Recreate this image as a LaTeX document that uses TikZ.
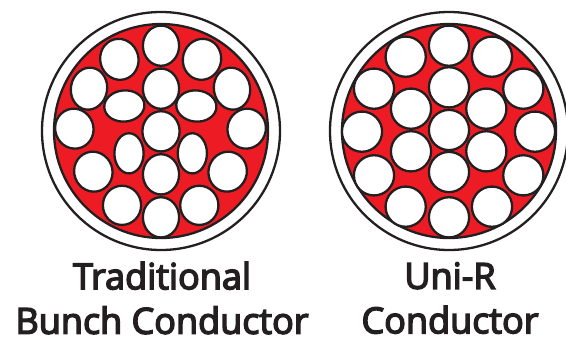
\documentclass[tikz,border=0pt]{standalone}
\usepackage{fontspec}
\setmainfont{Open Sans}[FakeBold=4]
\definecolor{fillred}{RGB}{237,28,36}
\definecolor{inkline}{RGB}{35,31,32}
\usetikzlibrary{shapes.geometric}
\tikzset{
  jacket/.style={circle,draw=inkline,line width=2.3pt,fill=white,inner sep=0pt,minimum size=238pt},
  core/.style={circle,draw=inkline,line width=2.3pt,fill=fillred,inner sep=0pt,minimum size=214pt},
  strand/.style={ellipse,draw=inkline,line width=2.3pt,fill=white,inner sep=0pt,minimum width=#1},
  caption/.style={font=\fontsize{36}{44.5}\selectfont\color{inkline},align=center,inner sep=0pt}
}
\newcommand{\wire}[6]{\node[strand=#3pt-0.8pt,minimum height=#4pt-0.8pt,rotate=#5] (#6) at ({(#1)/3+30},{(#2)/3}) {};}
\newcommand{\rwire}[3]{\node[strand=40.2pt,minimum height=40.2pt] (#3) at ({(#1)/3+320},{(#2)/3}) {};}
\begin{document}
\begin{tikzpicture}[x=1pt,y=-1pt]
\useasboundingbox (0,0) rectangle (566,341);
\node[jacket] (lo) at (161,131) {};
\node[core] (li) at (161,131) {};
\wire{393}{137}{37}{41}{0}{a1}
\wire{268}{178}{39}{42}{15}{a2}
\wire{516}{178}{39}{42}{-15}{a3}
\wire{177}{266}{37}{43}{-10}{a4}
\wire{606}{266}{37}{43}{10}{a5}
\wire{393}{266}{37}{41}{0}{a6}
\wire{283}{318}{41}{32}{5}{a7}
\wire{499}{318}{41}{32}{-5}{a8}
\wire{133}{386}{39}{41}{20}{a9}
\wire{650}{386}{39}{41}{-20}{a10}
\wire{393}{394}{38}{41}{0}{a11}
\wire{297}{460}{30}{41}{0}{a12}
\wire{487}{460}{30}{41}{0}{a13}
\wire{190}{515}{39}{41}{20}{a14}
\wire{593}{515}{39}{41}{-20}{a15}
\wire{393}{523}{37}{41}{0}{a16}
\wire{276}{616}{39}{40}{0}{a17}
\wire{508}{616}{39}{40}{0}{a18}
\wire{393}{652}{37}{41}{0}{a19}
\node[jacket] (ro) at (449,131) {};
\node[core] (ri) at (449,131) {};
\rwire{387}{137}{b1}
\rwire{257}{170}{b2}
\rwire{516}{170}{b3}
\rwire{162}{266}{b4}
\rwire{610}{266}{b5}
\rwire{387}{262}{b6}
\rwire{273}{326}{b7}
\rwire{499}{326}{b8}
\rwire{126}{395}{b9}
\rwire{645}{395}{b10}
\rwire{387}{390}{b11}
\rwire{273}{454}{b12}
\rwire{499}{454}{b13}
\rwire{162}{526}{b14}
\rwire{610}{526}{b15}
\rwire{387}{516}{b16}
\rwire{257}{620}{b17}
\rwire{516}{620}{b18}
\rwire{387}{652}{b19}
\node[caption] (t1) at (162,298) {Traditional\\Bunch Conductor};
\node[caption] (t2) at (450,298) {Uni-R\\Conductor};
\end{tikzpicture}
\end{document}
